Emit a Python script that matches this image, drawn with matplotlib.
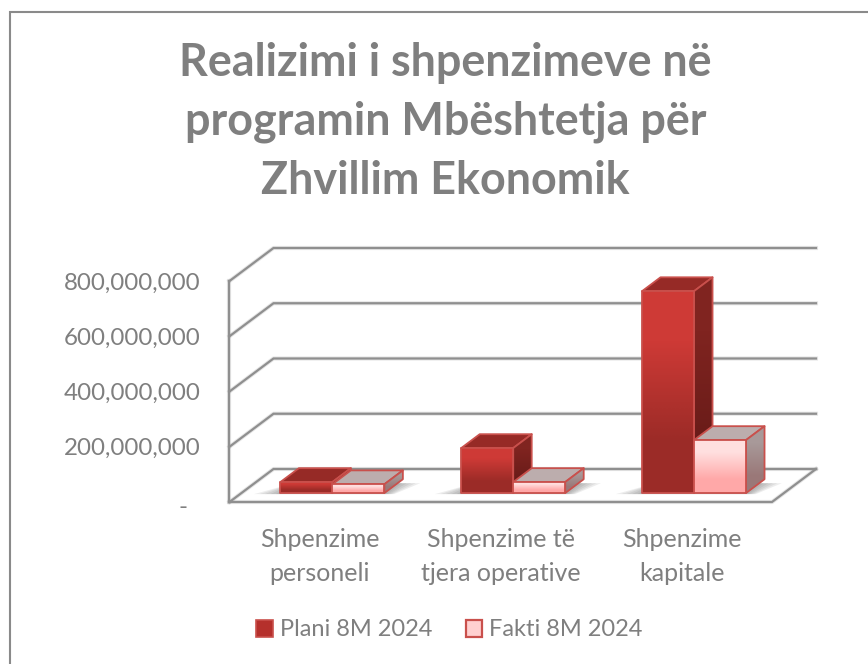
import matplotlib
matplotlib.use("Agg")
import matplotlib.pyplot as plt
from matplotlib.colors import LinearSegmentedColormap
from matplotlib.lines import Line2D
from matplotlib.patches import Polygon, Patch

plt.rcParams['font.family'] = ['Lato', 'DejaVu Sans']

categories = ["Shpenzime\npersoneli", "Shpenzime të\ntjera operative", "Shpenzime\nkapitale"]
series_names = ["Plani 8M 2024", "Fakti 8M 2024"]
plani = [40000000, 163000000, 731000000]
fakti = [32000000, 40000000, 192000000]
yticks = [0, 200000000, 400000000, 600000000, 800000000]
title = "Realizimi i shpenzimeve në\nprogramin Mbështetja për\nZhvillim Ekonomik"

W, H = 868, 664
GREY = "#7f7f7f"
LINE = "#8f8f8f"
EDGE = "#c9504c"

fig = plt.figure(figsize=(W / 100, H / 100), dpi=100)
ax = fig.add_axes([229.5 / W, 1 - 502 / H, 587.5 / W, 254 / H])

# oblique depth of the floor, in data units
DX = 44 / 180.83
DY = 119.5e6
BAR_W = 52 / 180.83
BAR_SHIFT = 0.6 / 180.83
D0, D1 = 0.27, 0.69


def shifted(x, y, d):
    return x + DX * d, y + DY * d


def grad_poly(pts, top, bottom, z):
    xs = [p[0] for p in pts]
    ys = [p[1] for p in pts]
    poly = Polygon(pts, closed=True, fc="none", ec=EDGE, lw=1.3, zorder=z + 0.1, joinstyle="round")
    ax.add_patch(poly)
    cmap = LinearSegmentedColormap.from_list("g", [top, bottom])
    im = ax.imshow([[0], [1]], extent=[min(xs), max(xs), min(ys), max(ys)], cmap=cmap,
                   aspect="auto", origin="upper", interpolation="bilinear", zorder=z)
    clip = Polygon(pts, closed=True, transform=ax.transData)
    im.set_clip_path(clip)


def bar3d(x0, val, front, top_c, side, z):
    x1 = x0 + BAR_W
    a = shifted(x0, 0, D0)
    b = shifted(x1, 0, D0)
    c = shifted(x1, val, D0)
    d = shifted(x0, val, D0)
    e = shifted(x0, val, D1)
    f = shifted(x1, val, D1)
    g = shifted(x1, 0, D1)
    grad_poly([d, e, f, c], top_c, top_c, z)
    grad_poly([b, c, f, g], side[0], side[1], z + 0.2)
    grad_poly([a, b, c, d], front[0], front[1], z + 0.4)


def shadow(x0, x1):
    for k in range(5):
        grow = 0.010 * (k + 1)
        pts = [shifted(x0 - grow * 3, -6e6, D0 + 0.02), shifted(x1 + grow, -6e6, D0 + 0.02),
               shifted(x1 + grow * 2.5, 0, D1 - 0.12), shifted(x0, 0, D1 - 0.12)]
        ax.add_patch(Polygon(pts, closed=True, fc="#555555", ec="none", alpha=0.10, zorder=2))


def wall_line(xs, ys):
    # soft halo under each line, the reference lines are slightly blurred
    ax.plot(xs, ys, color=LINE, lw=3, alpha=0.22, zorder=0.9, clip_on=False)
    ax.plot(xs, ys, color=LINE, lw=1.6, zorder=1, clip_on=False, solid_joinstyle="miter")


# walls and gridlines
for t in yticks:
    wall_line([-0.5, -0.5 + DX, 2.5 + DX], [t, t + DY, t + DY])
wall_line([-0.5, -0.5], [0, 800000000])
wall_line([-0.5, 2.5, 2.5 + DX], [0, 0, DY])

for i in range(3):
    x_mid = i + BAR_SHIFT
    shadow(x_mid - BAR_W, x_mid + BAR_W)
    bar3d(x_mid - BAR_W, plani[i], ("#ce3a36", "#9b2b27"), "#962a26", ("#802420", "#6a1c19"), 3 + i)
    bar3d(x_mid, fakti[i], ("#ffdfdf", "#ffa8a8"), "#bcadad", ("#a89999", "#9a7878"), 3.6 + i)

ax.set_xlim(-0.5, -0.5 + 587.5 / 180.83)
ax.set_ylim(0, 800000000 + DY)
ax.patch.set_alpha(0)
for s in ax.spines.values():
    s.set_visible(False)

ax.set_yticks(yticks)
ax.set_yticklabels(["" if t == 0 else f"{t:,}" for t in yticks])
ax.set_xticks(range(3))
ax.set_xticklabels(categories, linespacing=1.55)
ax.tick_params(axis="y", length=0, pad=21, labelsize=17.4, labelcolor=GREY)
ax.tick_params(axis="x", length=0, pad=19, labelsize=18, labelcolor=GREY)
# the zero label sits lower and further left (accounting format)
ax.annotate("-", xy=(-0.5, 0), xytext=(-33.5, -3.6), textcoords="offset points", ha="center", va="center",
            fontsize=17.4, color=GREY, annotation_clip=False)

fig.text(445.5 / W, 1 - 122 / H, title, ha="center", va="center", fontsize=32.3, fontweight="bold",
         color=GREY, linespacing=1.5)

handles = [Patch(fc="#b5302c", ec=EDGE, lw=1.2), Patch(fc="#ffd0d0", ec=EDGE, lw=1.6)]
fig.legend(handles, series_names, loc="center", bbox_to_anchor=(449.5 / W, 1 - 630 / H), ncol=2, frameon=False,
           fontsize=17, labelcolor=GREY, handlelength=0.7, handleheight=0.7, handletextpad=0.3,
           columnspacing=1.4)

# chart frame: only left and top edges are inside the picture
fig.add_artist(Line2D([10 / W, 10 / W, 1], [0, 1 - 12 / H, 1 - 12 / H], transform=fig.transFigure,
                      color="#8a8a8a", lw=1.5, solid_joinstyle="miter"))

fig.savefig("out.png", dpi=100)
